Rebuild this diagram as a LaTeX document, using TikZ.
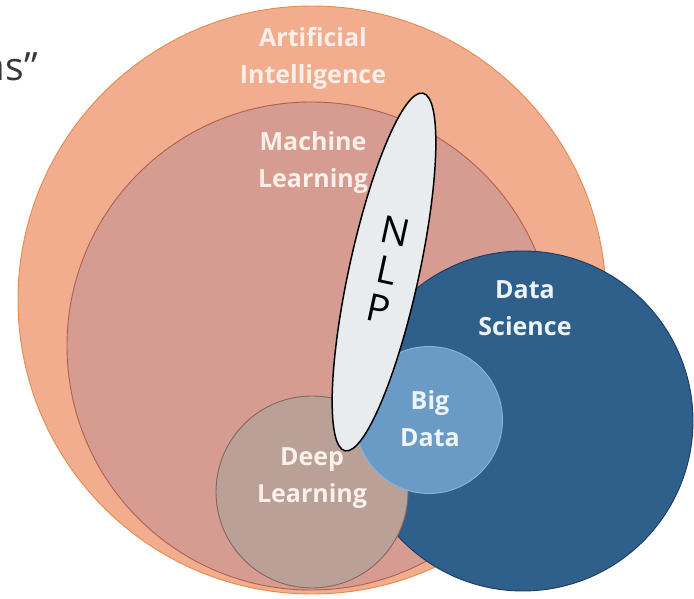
\documentclass[tikz,border=0pt]{standalone}
\usepackage{fontspec}
\setmainfont{Open Sans}
\usetikzlibrary{shapes.geometric}
\definecolor{aifill}{HTML}{F2AC8E}
\definecolor{ailine}{HTML}{E58A4E}
\definecolor{mlfill}{HTML}{D69C92}
\definecolor{mlline}{HTML}{B0604C}
\definecolor{dlfill}{HTML}{B9A198}
\definecolor{dlline}{HTML}{8A6458}
\definecolor{dsfill}{HTML}{2F5F8B}
\definecolor{dsline}{HTML}{1C3A5C}
\definecolor{bdfill}{HTML}{6A9BC7}
\definecolor{bdline}{HTML}{8DB4D9}
\definecolor{nlpfill}{HTML}{E8ECEE}
\definecolor{lblwarm}{HTML}{FBEFE9}
\definecolor{lblcool}{HTML}{EEF4FA}
\definecolor{quotegray}{HTML}{383838}
\tikzset{
  disc/.style={circle, inner sep=0pt, outer sep=0pt, line width=0.9pt},
  lbl/.style={font=\fontsize{25}{37}\selectfont\bfseries, align=center, inner sep=0pt},
}
\begin{document}
\begin{tikzpicture}[x=1pt, y=-1pt]
\useasboundingbox (0,0) rectangle (694,599);
\clip (0,0) rectangle (694,599);
\fill[white] (0,0) rectangle (694,599);
% circles
\node[disc, minimum size=588pt, fill=aifill, draw=ailine] (ai) at (312,300) {};
\node[disc, minimum size=488pt, fill=mlfill, draw=mlline] (ml) at (311,346) {};
\node[disc, minimum size=340pt, fill=dsfill, draw=dsline] (ds) at (523,421) {};
\node[disc, minimum size=192pt, fill=dlfill, draw=dlline] (dl) at (312,492) {};
\node[disc, minimum size=147pt, fill=bdfill, draw=bdline] (bd) at (429,420) {};
% NLP ellipse
\node[ellipse, inner sep=0pt, outer sep=0pt, minimum width=366pt, minimum height=70pt,
      rotate=77.7, fill=nlpfill, draw=black, line width=1.5pt] (nlp) at (384,272) {};
\node[font=\fontsize{38}{40}\selectfont, align=center, inner sep=0pt, rotate=-12.3] (nlptxt) at (387,270) {N\\L\\P};
% labels
\node[lbl, text=lblwarm] (ailbl) at (313,58) {Artificial\\Intelligence};
\node[lbl, text=lblwarm] (mllbl) at (313,163) {Machine\\Learning};
\node[lbl, text=lblcool] (dslbl) at (525,308) {Data\\Science};
\node[lbl, text=lblcool] (bdlbl) at (430,419) {Big\\Data};
\node[lbl, text=lblwarm] (dllbl) at (312,478) {Deep\\Learning};
% partial quote text at top left
\node[font=\fontsize{39}{40}\selectfont, text=quotegray, anchor=base east, inner sep=0pt] (qt) at (38,81) {as”};
\end{tikzpicture}
\end{document}
